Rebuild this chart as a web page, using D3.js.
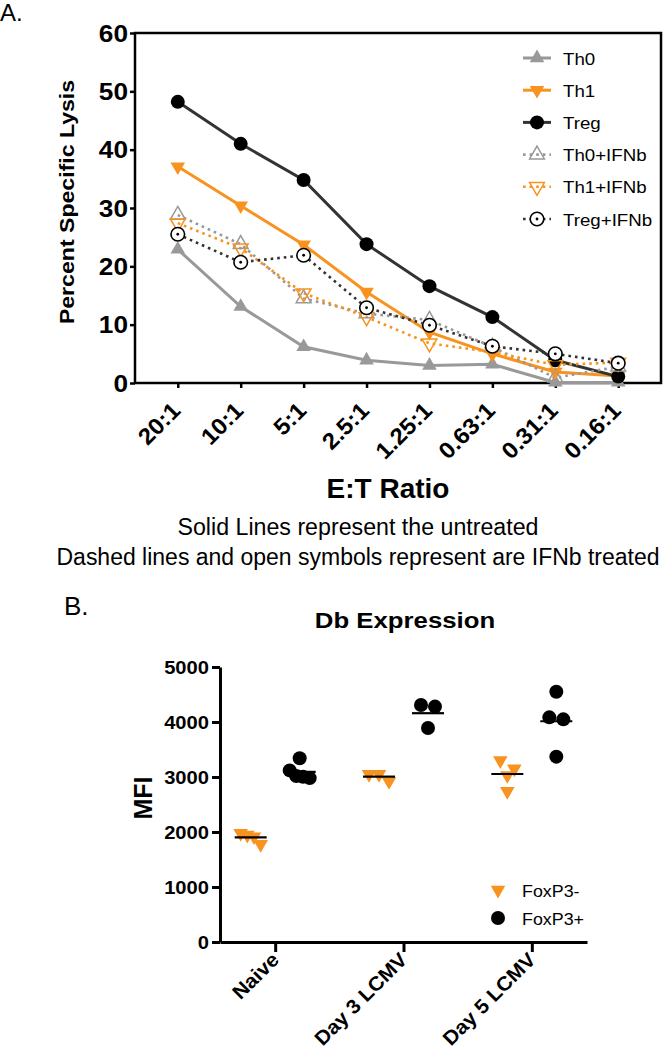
<!DOCTYPE html>
<html><head><meta charset="utf-8">
<script src="https://cdn.jsdelivr.net/npm/d3@7"></script>
<style>
body{margin:0;background:#fff}
text{font-family:"Liberation Sans",Arial,Helvetica,sans-serif}
</style>
</head><body>
<svg id="c" width="663" height="1050"></svg>
<script>
// ---------- Panel A data ----------
const ratios = ["20:1","10:1","5:1","2.5:1","1.25:1","0.63:1","0.31:1","0.16:1"];
const th0      = [22.9, 13.1, 6.2, 3.9, 3.0, 3.2, 0.1, 0.1];
const th1      = [37.1, 30.4, 23.7, 15.6, 8.7, 5.0, 1.9, 1.2];
const treg     = [48.2, 41.0, 34.8, 23.8, 16.6, 11.3, 3.9, 1.1];
const th0IFNb  = [28.8, 23.8, 14.5, 11.9, 10.8, 6.2, 0.9, 2.8];
const th1IFNb  = [27.4, 23.1, 15.4, 11.3, 6.8, 5.3, 3.1, 3.5];
const tregIFNb = [25.5, 20.7, 21.9, 12.9, 9.9, 6.3, 5.0, 3.4];
const seriesNames = ["Th0","Th1","Treg","Th0+IFNb","Th1+IFNb","Treg+IFNb"];
const lysisTicks = [0,10,20,30,40,50,60];

// ---------- Panel B data ----------
const groups = ["Naive","Day 3 LCMV","Day 5 LCMV"];
const foxp3NegNaive = [1976, 1945, 1915, 1776];
const foxp3NegDay3  = [3050, 3050, 2920];
const foxp3NegDay5  = [3300, 3150, 3030, 2740];
const foxp3PosNaive = [3340, 3120, 3018, 3005, 2980];
const foxp3PosDay3  = [4310, 4280, 3890];
const foxp3PosDay5  = [4551, 4085, 4048, 3370];
const mfiTicks = [0,1000,2000,3000,4000,5000];
const legendB = ["FoxP3-","FoxP3+"];

// ---------- styles ----------
const ORANGE = "#F7931E", GRAY = "#999999", DARK = "#333333";
const seriesStyle = {
  "Th0":       {line: GRAY,   mark: GRAY,   sym: "up",   open: false, dotted: false},
  "Th1":       {line: ORANGE, mark: ORANGE, sym: "down", open: false, dotted: false},
  "Treg":      {line: DARK,   mark: "#000", sym: "circ", open: false, dotted: false},
  "Th0+IFNb":  {line: GRAY,   mark: GRAY,   sym: "up",   open: true,  dotted: true},
  "Th1+IFNb":  {line: ORANGE, mark: ORANGE, sym: "down", open: true,  dotted: true},
  "Treg+IFNb": {line: DARK,   mark: "#000", sym: "circ", open: true,  dotted: true}
};
const seriesData = {"Th0": th0, "Th1": th1, "Treg": treg,
  "Th0+IFNb": th0IFNb, "Th1+IFNb": th1IFNb, "Treg+IFNb": tregIFNb};

const svg = d3.select("#c");

function txt(parent, x, y, str, o) {
  o = o || {};
  const t = parent.append("text")
    .attr("transform", `translate(${x},${y}) rotate(${o.rot || 0}) scale(${o.sx || 1},1)`)
    .attr("text-anchor", o.anchor || "start")
    .attr("font-size", o.size || 16)
    .attr("font-weight", o.bold ? "bold" : "normal")
    .attr("fill", "#000")
    .text(str);
  if (o.family) t.attr("font-family", o.family);
  return t;
}

function drawMarker(g, st, cx, cy) {
  if (st.sym === "circ") {
    g.append("circle").attr("cx", cx).attr("cy", cy).attr("r", st.open ? 6.8 : 7)
      .attr("fill", st.open ? "#fff" : st.mark)
      .attr("stroke", st.mark).attr("stroke-width", st.open ? 1.6 : 0);
    if (st.open) g.append("circle").attr("cx", cx).attr("cy", cy).attr("r", 1.4).attr("fill", st.mark);
  } else {
    const p = d3.symbol(d3.symbolTriangle, st.open ? 95 : 92)();
    g.append("path").attr("d", p)
      .attr("transform", `translate(${cx},${cy})` + (st.sym === "down" ? " rotate(180)" : ""))
      .attr("fill", st.open ? "none" : st.mark)
      .attr("stroke", st.mark).attr("stroke-width", st.open ? 1.5 : 0);
  }
}

// ================= Panel A =================
const A = {left: 135, top: 33, right: 661, bottom: 383};
const xA = d3.scalePoint().domain(ratios).range([A.left, A.right]).padding(0.68);
const yA = d3.scaleLinear().domain([0, 60]).range([A.bottom, A.top]);

txt(svg, 0, 21, "A.", {size: 24});

const gA = svg.append("g");
const yAxA = gA.append("g").attr("transform", `translate(${A.left},0)`)
  .call(d3.axisLeft(yA).tickValues(lysisTicks).tickSize(5));
yAxA.select(".domain").remove();
yAxA.selectAll(".tick line").attr("stroke", "#000").attr("stroke-width", 2.5);
yAxA.selectAll(".tick text").remove();
lysisTicks.forEach(t => txt(gA, A.left - 7, yA(t) + 8.5, String(t),
  {anchor: "end", size: 23, bold: true, sx: 1.14}));

const xAxA = gA.append("g").attr("transform", `translate(0,${A.bottom})`)
  .call(d3.axisBottom(xA).tickSize(5));
xAxA.select(".domain").remove();
xAxA.selectAll(".tick line").attr("stroke", "#000").attr("stroke-width", 2.5);
xAxA.selectAll(".tick text").remove();
ratios.forEach(r => txt(gA, xA(r) + 4, A.bottom + 29, r,
  {anchor: "end", size: 23, bold: true, rot: -45, sx: 1.05}));

gA.append("rect").attr("x", A.left).attr("y", A.top)
  .attr("width", A.right - A.left).attr("height", A.bottom - A.top)
  .attr("fill", "none").attr("stroke", "#000").attr("stroke-width", 2.5);

txt(svg, 74, 202, "Percent Specific Lysis", {anchor: "middle", size: 21, bold: true, rot: -90, sx: 1.1});
txt(svg, 388, 498, "E:T Ratio", {anchor: "middle", size: 28, bold: true});
svg.append("text").attr("x", 358).attr("y", 535).attr("text-anchor", "middle")
  .attr("font-family", "Open Sans, Noto Sans, sans-serif").attr("font-size", 23)
  .attr("textLength", 361).attr("lengthAdjust", "spacingAndGlyphs")
  .text("Solid Lines represent the untreated");
svg.append("text").attr("x", 358).attr("y", 565).attr("text-anchor", "middle")
  .attr("font-family", "Open Sans, Noto Sans, sans-serif").attr("font-size", 23)
  .attr("textLength", 603).attr("lengthAdjust", "spacingAndGlyphs")
  .text("Dashed lines and open symbols represent are IFNb treated");

const lineA = d3.line().x((d, i) => xA(ratios[i])).y(d => yA(d));
seriesNames.forEach(name => {
  const st = seriesStyle[name];
  gA.append("path").datum(seriesData[name]).attr("d", lineA)
    .attr("fill", "none").attr("stroke", st.line)
    .attr("stroke-width", st.dotted ? 2.6 : 3)
    .attr("stroke-dasharray", st.dotted ? "2.6,4" : null);
});
seriesNames.forEach(name => {
  const st = seriesStyle[name];
  const g = gA.append("g");
  seriesData[name].forEach((v, i) => drawMarker(g, st, xA(ratios[i]), yA(v)));
});

const legA = svg.append("g");
seriesNames.forEach((name, i) => {
  const st = seriesStyle[name];
  const cy = 58 + i * 32.2;
  legA.append("line").attr("x1", 523).attr("x2", 551).attr("y1", cy).attr("y2", cy)
    .attr("stroke", st.line).attr("stroke-width", st.dotted ? 2.6 : 3)
    .attr("stroke-dasharray", st.dotted ? "2.6,4" : null);
  drawMarker(legA, st, 537, cy);
  txt(legA, 563, cy + 6.5, name, {size: 17, sx: 1.1});
});

// ================= Panel B =================
const B = {left: 220, right: 587, top: 667, bottom: 942};
const xB = d3.scalePoint().domain(groups).range([B.left, B.right]).padding(0.43);
const yB = d3.scaleLinear().domain([0, 5000]).range([B.bottom, B.top]);
const sub = d3.scaleBand().domain(legendB).range([-49, 49]);

txt(svg, 64, 615, "B.", {size: 26});
txt(svg, 405, 628, "Db Expression", {anchor: "middle", size: 23, bold: true, sx: 1.12});
txt(svg, 152, 798, "MFI", {anchor: "middle", size: 25, bold: true, rot: -90});

const gB = svg.append("g");
const yAxB = gB.append("g").attr("transform", `translate(${B.left},0)`)
  .call(d3.axisLeft(yB).tickValues(mfiTicks).tickSize(8).tickSizeOuter(0));
yAxB.select(".domain").attr("stroke-width", 3);
yAxB.selectAll(".tick line").attr("stroke-width", 3);
yAxB.selectAll(".tick text").remove();
mfiTicks.forEach(t => txt(gB, B.left - 11, yB(t) + 6.5, d3.format("d")(t),
  {anchor: "end", size: 18, bold: true, sx: 1.12}));

const xAxB = gB.append("g").attr("transform", `translate(0,${B.bottom})`)
  .call(d3.axisBottom(xB).tickSize(10).tickSizeOuter(0));
xAxB.select(".domain").attr("stroke-width", 3);
xAxB.selectAll(".tick line").attr("stroke-width", 3);
xAxB.selectAll(".tick text").remove();
groups.forEach(gname => txt(gB, xB(gname) + 5, B.bottom + 19, gname,
  {anchor: "end", size: 20, bold: true, rot: -45, sx: 1.05}));

function swarm(vals) {
  const idx = vals.map((v, i) => i).sort((a, b) => vals[b] - vals[a]);
  const rows = [];
  idx.forEach(i => {
    const r = rows[rows.length - 1];
    if (r && Math.abs(yB(vals[i]) - yB(vals[r[0]])) < 12) r.push(i); else rows.push([i]);
  });
  const off = new Array(vals.length).fill(0);
  rows.forEach(r => {
    const n = r.length, s = n > 1 ? Math.min(14, 20 / (n - 1)) : 0;
    r.forEach((i, j) => off[i] = (j - (n - 1) / 2) * s);
  });
  return off;
}

const negSets = [foxp3NegNaive, foxp3NegDay3, foxp3NegDay5];
const posSets = [foxp3PosNaive, foxp3PosDay3, foxp3PosDay5];
const stNeg = {mark: ORANGE, sym: "down", open: false};
const stPos = {mark: "#000", sym: "circ", open: false};

groups.forEach((grp, gi) => {
  [[negSets[gi], stNeg, legendB[0]], [posSets[gi], stPos, legendB[1]]].forEach(([vals, st, key]) => {
    const cx = xB(grp) + sub(key) + sub.bandwidth() / 2;
    const off = swarm(vals);
    const g = gB.append("g");
    vals.forEach((v, i) => drawMarker(g, st, cx + off[i], yB(v)));
    const m = d3.mean(vals);
    gB.append("line").attr("x1", cx - 16).attr("x2", cx + 16)
      .attr("y1", yB(m)).attr("y2", yB(m)).attr("stroke", "#000").attr("stroke-width", 2.2);
  });
});

const legB = svg.append("g");
[stNeg, stPos].forEach((st, i) => {
  const cy = 890 + i * 28;
  drawMarker(legB, st, 498, cy);
  txt(legB, 522, cy + 7, legendB[i], {size: 17, sx: 1.05});
});
</script>
</body></html>
